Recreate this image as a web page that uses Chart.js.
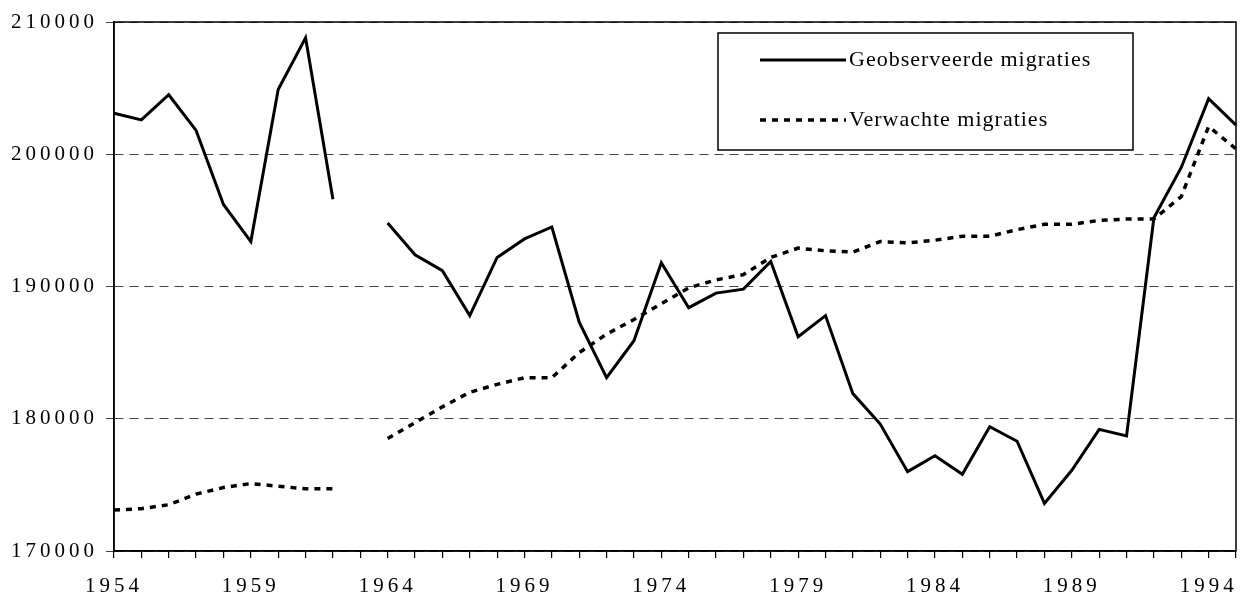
<!DOCTYPE html>
<html>
<head>
<meta charset="utf-8">
<script src="https://cdn.jsdelivr.net/npm/chart.js@4"></script>
<style>
  html, body { margin: 0; padding: 0; background: #fff; }
  #wrap { width: 1242px; height: 595px; }
</style>
</head>
<body>
<div id="wrap"><canvas id="myChart" width="1242" height="595"></canvas></div>
<script>
// years on the x axis (1963 has no data)
var years = [1954, 1955, 1956, 1957, 1958, 1959, 1960, 1961, 1962, 1963,
             1964, 1965, 1966, 1967, 1968, 1969, 1970, 1971, 1972, 1973,
             1974, 1975, 1976, 1977, 1978, 1979, 1980, 1981, 1982, 1983,
             1984, 1985, 1986, 1987, 1988, 1989, 1990, 1991, 1992, 1993,
             1994, 1995];

var observed = [203100, 202600, 204500, 201800, 196200, 193400, 204900, 208800, 196600, null,
                194800, 192400, 191200, 187800, 192200, 193600, 194500, 187300, 183100, 185900,
                191800, 188400, 189500, 189800, 191900, 186200, 187800, 181900, 179600, 176000,
                177200, 175800, 179400, 178300, 173600, 176100, 179200, 178700, 195200, 199000,
                204200, 202200];

var expected = [173100, 173200, 173500, 174300, 174800, 175100, 174900, 174700, 174700, null,
                178500, 179700, 180900, 182000, 182600, 183100, 183100, 185000, 186400, 187500,
                188700, 189900, 190500, 190900, 192200, 192900, 192700, 192600, 193400, 193300,
                193500, 193800, 193800, 194300, 194700, 194700, 195000, 195100, 195100, 196800,
                202100, 200400];

var seriesNames = ['Geobserveerde migraties', 'Verwachte migraties'];
var yTicks = [170000, 180000, 190000, 200000, 210000];

var SERIF = '"Liberation Serif", "Times New Roman", serif';

// wider letter spacing like the printed original
var spacing = {
  id: 'spacing',
  beforeLayout: function(chart) { chart.ctx.letterSpacing = '4px'; },
  beforeDraw: function(chart) { chart.ctx.letterSpacing = '4px'; }
};

// frame round the plot area + boxed legend
var frameAndLegend = {
  id: 'frameAndLegend',
  afterDatasetsDraw: function(chart) {
    var ctx = chart.ctx, a = chart.chartArea;
    ctx.save();
    ctx.setLineDash([]);
    ctx.strokeStyle = '#000';
    ctx.lineWidth = 1.5;
    ctx.strokeRect(a.left, a.top, a.right - a.left, a.bottom - a.top);

    // legend box
    var bx = 718, by = 33, bw = 415, bh = 117;
    ctx.fillStyle = '#fff';
    ctx.fillRect(bx, by, bw, bh);
    ctx.lineWidth = 1.5;
    ctx.strokeRect(bx, by, bw, bh);

    ctx.font = '22px ' + SERIF;
    ctx.letterSpacing = '1px';
    ctx.textBaseline = 'middle';
    ctx.textAlign = 'left';
    var rows = [60, 120];
    chart.data.datasets.forEach(function(ds, i) {
      ctx.beginPath();
      ctx.setLineDash(ds.borderDash || []);
      ctx.lineWidth = ds.borderWidth;
      ctx.strokeStyle = ds.borderColor;
      ctx.moveTo(760, rows[i]);
      ctx.lineTo(846, rows[i]);
      ctx.stroke();
      ctx.setLineDash([]);
      ctx.fillStyle = '#000';
      ctx.fillText(ds.label, 849, rows[i]);
    });
    ctx.restore();
  }
};

var ctx = document.getElementById('myChart');
var myChart = new Chart(ctx, {
  type: 'line',
  data: {
    labels: years,
    datasets: [{
      label: seriesNames[0],
      data: observed,
      borderColor: '#000',
      borderWidth: 3,
      pointRadius: 0,
      tension: 0,
      spanGaps: false
    }, {
      label: seriesNames[1],
      data: expected,
      borderColor: '#000',
      borderWidth: 3.5,
      borderDash: [6, 6],
      pointRadius: 0,
      tension: 0,
      spanGaps: false
    }]
  },
  options: {
    responsive: false,
    animation: false,
    layout: { padding: { left: 0, right: 6, top: 22, bottom: 0 } },
    plugins: {
      legend: { display: false },
      tooltip: { enabled: false }
    },
    scales: {
      x: {
        offset: false,
        grid: {
          drawOnChartArea: false,
          color: '#000',
          tickLength: 7,
          lineWidth: 1.2
        },
        border: { color: '#000', width: 1.5 },
        ticks: {
          autoSkip: false,
          maxRotation: 0,
          color: '#000',
          padding: 16,
          font: { family: SERIF, size: 21 },
          callback: function(v, i) {
            var y = years[i];
            return (y - 1954) % 5 === 0 ? String(y) : '';
          }
        },
        afterFit: function(s) {
          s.height = 44;
          s.paddingLeft = 0;
          s.paddingRight = 0;
        }
      },
      y: {
        min: yTicks[0],
        max: yTicks[yTicks.length - 1],
        afterBuildTicks: function(s) {
          s.ticks = yTicks.map(function(v) { return { value: v }; });
        },
        grid: {
          color: '#444',
          lineWidth: 1,
          tickLength: 8
        },
        border: { color: '#000', width: 1.5, dash: [9, 6] },
        ticks: {
          color: '#000',
          padding: 8,
          font: { family: SERIF, size: 21 },
          callback: function(v) { return String(v); }
        },
        afterFit: function(s) { s.width = 114; }
      }
    }
  },
  plugins: [spacing, frameAndLegend]
});
</script>
</body>
</html>
